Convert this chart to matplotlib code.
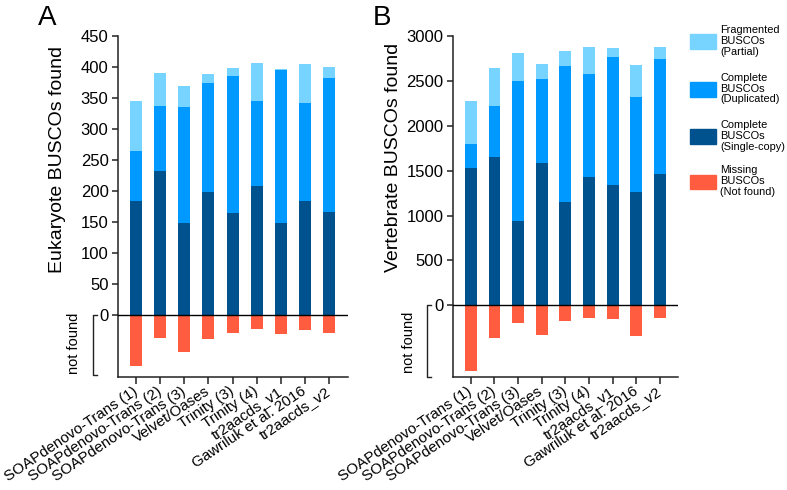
import matplotlib
matplotlib.use("Agg")
import matplotlib.pyplot as plt
import numpy as np
from matplotlib.transforms import blended_transform_factory
from matplotlib.patches import Rectangle

plt.rcParams['font.family'] = ['Liberation Sans', 'DejaVu Sans']

assemblies = ["SOAPdenovo-Trans (1)", "SOAPdenovo-Trans (2)", "SOAPdenovo-Trans (3)",
              "Velvet/Oases", "Trinity (3)", "Trinity (4)", "tr2aacds_v1",
              "Gawriluk et al. 2016", "tr2aacds_v2"]

# Panel A: Eukaryote BUSCOs
euk_single = [184, 233, 148, 199, 164, 209, 149, 184, 167]
euk_dup = [81, 104, 187, 176, 221, 136, 247, 158, 215]
euk_frag = [81, 54, 34, 14, 14, 61, 1, 63, 18]
euk_missing = [82, 37, 59, 39, 29, 22, 31, 23, 28]

# Panel B: Vertebrate BUSCOs
vert_single = [1528, 1654, 940, 1587, 1149, 1431, 1338, 1267, 1461]
vert_dup = [274, 569, 1561, 940, 1523, 1152, 1431, 1056, 1289]
vert_frag = [476, 427, 309, 164, 168, 297, 97, 360, 127]
vert_missing = [736, 368, 200, 327, 178, 137, 152, 338, 141]

legend_labels = ["Fragmented\nBUSCOs\n(Partial)", "Complete\nBUSCOs\n(Duplicated)",
                 "Complete\nBUSCOs\n(Single-copy)", "Missing\nBUSCOs\n(Not found)"]
c_frag = "#77D3FF"
c_dup = "#0099FF"
c_single = "#00528F"
c_miss = "#FF5C40"
legend_colors = [c_frag, c_dup, c_single, c_miss]

W, H = 787, 490
fig = plt.figure(figsize=(W / 100, H / 100), dpi=100)

def px_axes(l, t, r, b):
    return fig.add_axes([l / W, 1 - b / H, (r - l) / W, (b - t) / H])

def panel(ax, single, dup, frag, miss, ymax, ystep, ymin, ylabel, brk_bottom, nf_y, xlim):
    x = np.arange(len(assemblies))
    s = np.array(single); d = np.array(dup); f = np.array(frag); m = np.array(miss)
    ax.bar(x, s, width=0.5, color=c_single)
    ax.bar(x, d, width=0.5, bottom=s, color=c_dup)
    ax.bar(x, f, width=0.5, bottom=s + d, color=c_frag)
    ax.bar(x, -m, width=0.5, color=c_miss)
    ax.axhline(0, color="black", lw=1.0, zorder=3)
    ax.set_xlim(*xlim)
    ax.set_ylim(ymin, ymax)
    ax.set_yticks(np.arange(0, ymax + 1, ystep))
    ax.set_xticks(x)
    ax.set_xticklabels(assemblies, rotation=34, ha="right", va="center",
                       rotation_mode="anchor", fontsize=10.9)
    ax.tick_params(axis="y", labelsize=12, length=4.3, width=1.1, pad=2.5, color="#222222")
    ax.tick_params(axis="x", length=5, width=1.1, pad=4, color="#222222")
    for sp in ["top", "right"]:
        ax.spines[sp].set_visible(False)
    for sp in ["left", "bottom"]:
        ax.spines[sp].set_linewidth(1.1)
        ax.spines[sp].set_color("#222222")
    ax.set_ylabel(ylabel, fontsize=14)
    tr = blended_transform_factory(ax.transAxes, ax.transData)
    bx = -25.5 / ax.bbox.width
    arm = 4 / ax.bbox.width
    ax.plot([bx + arm, bx, bx, bx + arm], [0, 0, brk_bottom, brk_bottom],
            transform=tr, color="#222222", lw=1.0, clip_on=False)
    ax.text(-44 / ax.bbox.width, nf_y, "not found", transform=tr, rotation=90,
            ha="center", va="center", fontsize=10.5)

axA = px_axes(118, 36, 347.7, 377.3)
panel(axA, euk_single, euk_dup, euk_frag, euk_missing, 450, 50, -100,
      "Eukaryote BUSCOs found", -96, -45, (-0.755, 8.78))
axA.yaxis.set_label_coords(-0.228, 0.637)

axB = px_axes(452.7, 36.3, 677.7, 377.3)
panel(axB, vert_single, vert_dup, vert_frag, vert_missing, 3000, 500, -803,
      "Vertebrate BUSCOs found", -795, -415, (-0.765, 8.75))
axB.yaxis.set_label_coords(-0.2267, 0.6446)

fig.text(38 / W, 1 - 25 / H, "A", fontsize=20, ha="left", va="baseline")
fig.text(373 / W, 1 - 25 / H, "B", fontsize=20, ha="left", va="baseline")

# legend (manual layout)
centers = [41.7, 89.5, 136.7, 182.0]
for lab, col, cy in zip(legend_labels, legend_colors, centers):
    fig.add_artist(Rectangle((690 / W, 1 - (cy + 7.3) / H), 26 / W, 14.6 / H,
                             transform=fig.transFigure, color=col))
    fig.text(720.5 / W, 1 - (cy - 1) / H, lab, fontsize=7.9, ha="left", va="center",
             linespacing=1.12)

fig.savefig("out.png", dpi=100)
